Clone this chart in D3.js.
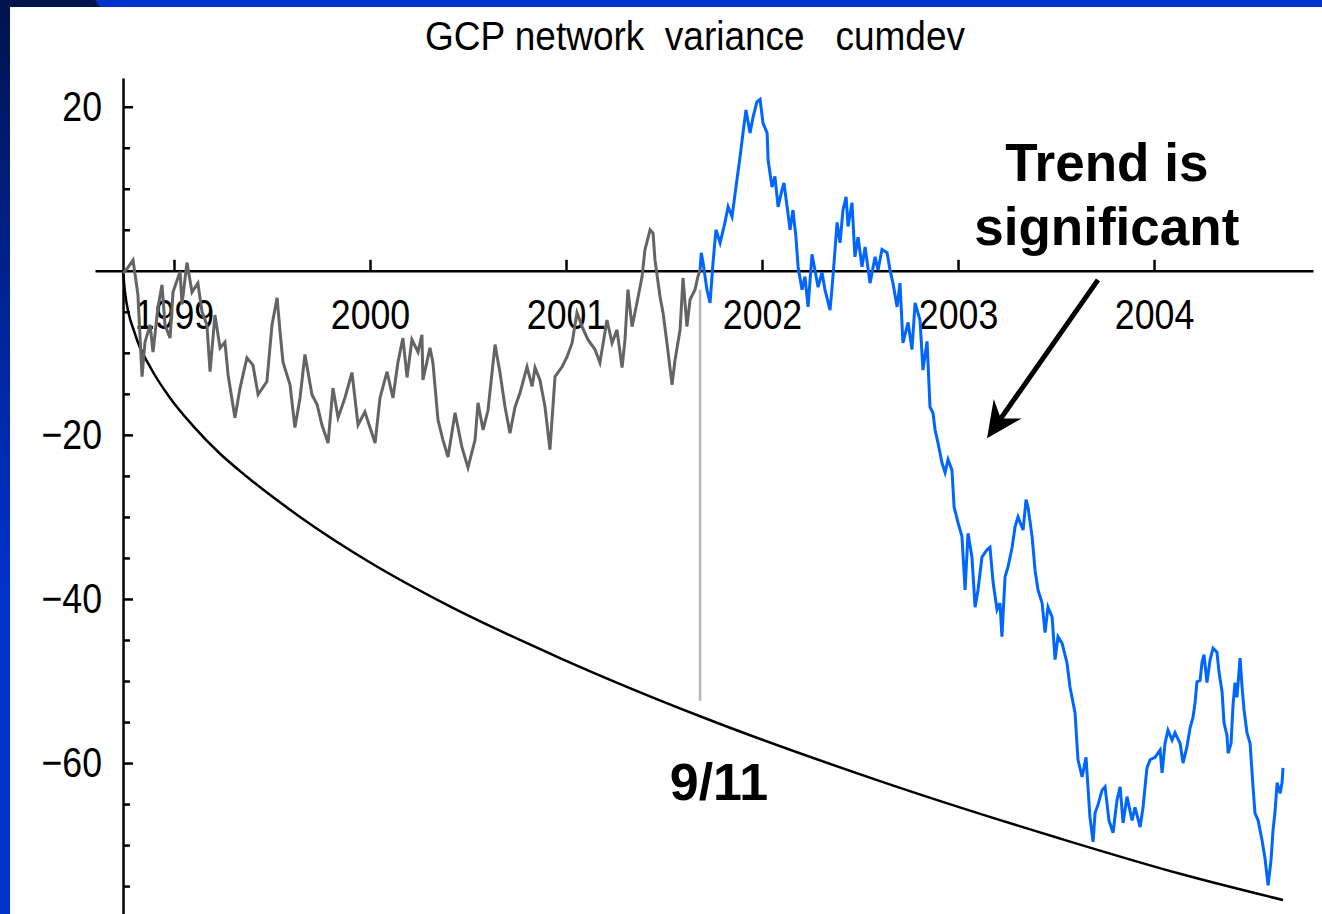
<!DOCTYPE html>
<html>
<head>
<meta charset="utf-8">
<script src="https://cdn.jsdelivr.net/npm/d3@7"></script>
<style>
  html, body { margin: 0; padding: 0; background: #fff; overflow: hidden; }
  svg { display: block; }
  text { font-family: "Liberation Sans", Arial, sans-serif; }
</style>
</head>
<body>
<div id="chart"></div>
<script>
// cumulative deviation before 9/11 (grey) -- decimal year / value
const grayYears = [1998.740, 1998.765, 1998.791, 1998.816, 1998.837, 1998.852, 1998.878, 1998.893, 1998.918, 1998.939,
  1998.954, 1998.980, 1998.995, 1999.031, 1999.041, 1999.066, 1999.092, 1999.122, 1999.143, 1999.168,
  1999.184, 1999.209, 1999.235, 1999.260, 1999.276, 1999.311, 1999.337, 1999.372, 1999.403, 1999.429,
  1999.474, 1999.500, 1999.526, 1999.541, 1999.556, 1999.592, 1999.617, 1999.643, 1999.668, 1999.704,
  1999.730, 1999.755, 1999.786, 1999.811, 1999.837, 1999.872, 1999.908, 1999.939, 1999.974, 2000.000,
  2000.026, 2000.051, 2000.087, 2000.117, 2000.143, 2000.168, 2000.189, 2000.214, 2000.245, 2000.265,
  2000.270, 2000.306, 2000.321, 2000.347, 2000.372, 2000.398, 2000.434, 2000.469, 2000.500, 2000.536,
  2000.551, 2000.577, 2000.602, 2000.638, 2000.663, 2000.689, 2000.714, 2000.740, 2000.765, 2000.801,
  2000.827, 2000.842, 2000.867, 2000.893, 2000.918, 2000.944, 2000.980, 2001.005, 2001.031, 2001.056,
  2001.082, 2001.112, 2001.148, 2001.173, 2001.209, 2001.235, 2001.260, 2001.286, 2001.301, 2001.316,
  2001.337, 2001.362, 2001.388, 2001.403, 2001.429, 2001.444, 2001.454, 2001.480, 2001.495, 2001.515,
  2001.541, 2001.556, 2001.582, 2001.597, 2001.617, 2001.633, 2001.658, 2001.673, 2001.684];
const grayValues = [-0.3, 0.4, 1.3, -2.9, -12.9, -8.7, -6.6, -9.9, -4.5, -1.7,
  -6.6, -8.2, -2.6, -0.1, -4.1, 1.0, -2.6, -1.5, -5.0, -6.6,
  -12.3, -5.4, -9.4, -8.7, -12.7, -17.9, -14.3, -10.6, -11.5, -15.1,
  -13.5, -6.6, -3.3, -7.4, -11.1, -13.9, -19.1, -15.5, -10.2, -15.1,
  -16.3, -18.8, -21.0, -14.3, -17.9, -15.5, -12.4, -18.8, -17.2, -19.1,
  -21.0, -15.5, -12.3, -15.5, -11.1, -8.2, -13.0, -8.4, -9.9, -7.8,
  -13.3, -9.4, -11.2, -18.2, -20.6, -22.7, -17.3, -21.5, -24.0, -20.6,
  -16.1, -19.4, -17.0, -9.0, -12.4, -16.6, -19.8, -16.6, -14.9, -11.7,
  -14.1, -11.8, -13.3, -16.6, -21.8, -12.9, -11.7, -10.5, -8.8, -5.1,
  -6.8, -8.4, -9.6, -11.2, -6.0, -8.8, -7.2, -11.8, -8.4, -2.3,
  -6.8, -3.9, -0.7, 2.6, 5.0, 4.6, 1.3, -3.2, -5.1, -8.8,
  -13.9, -10.9, -7.2, -0.9, -6.8, -3.5, -2.3, -0.7, 0.1];

// cumulative deviation from 9/11 on (blue)
const blueYears = [2001.684, 2001.690, 2001.699, 2001.719, 2001.735, 2001.750, 2001.765, 2001.786, 2001.811, 2001.827,
  2001.847, 2001.872, 2001.888, 2001.903, 2001.918, 2001.939, 2001.954, 2001.974, 2001.990, 2002.005,
  2002.026, 2002.031, 2002.051, 2002.066, 2002.082, 2002.102, 2002.112, 2002.128, 2002.143, 2002.158,
  2002.173, 2002.184, 2002.204, 2002.219, 2002.235, 2002.255, 2002.270, 2002.286, 2002.306, 2002.321,
  2002.347, 2002.362, 2002.383, 2002.398, 2002.413, 2002.429, 2002.439, 2002.459, 2002.474, 2002.490,
  2002.510, 2002.526, 2002.551, 2002.577, 2002.592, 2002.612, 2002.638, 2002.653, 2002.668, 2002.689,
  2002.704, 2002.719, 2002.745, 2002.765, 2002.781, 2002.806, 2002.821, 2002.842, 2002.857, 2002.872,
  2002.883, 2002.898, 2002.918, 2002.934, 2002.949, 2002.969, 2002.980, 2003.000, 2003.020, 2003.036,
  2003.051, 2003.071, 2003.087, 2003.102, 2003.122, 2003.148, 2003.163, 2003.179, 2003.199, 2003.214,
  2003.224, 2003.240, 2003.255, 2003.276, 2003.291, 2003.306, 2003.332, 2003.347, 2003.357, 2003.378,
  2003.393, 2003.408, 2003.429, 2003.444, 2003.459, 2003.480, 2003.495, 2003.510, 2003.531, 2003.556,
  2003.571, 2003.597, 2003.612, 2003.633, 2003.653, 2003.673, 2003.689, 2003.699, 2003.714, 2003.735,
  2003.750, 2003.770, 2003.791, 2003.811, 2003.827, 2003.842, 2003.862, 2003.888, 2003.903, 2003.929,
  2003.944, 2003.954, 2003.964, 2003.980, 2004.005, 2004.031, 2004.041, 2004.056, 2004.071, 2004.092,
  2004.107, 2004.133, 2004.148, 2004.168, 2004.184, 2004.199, 2004.209, 2004.219, 2004.235, 2004.245,
  2004.255, 2004.270, 2004.286, 2004.301, 2004.321, 2004.332, 2004.347, 2004.357, 2004.372, 2004.378,
  2004.393, 2004.403, 2004.413, 2004.423, 2004.439, 2004.449, 2004.459, 2004.474, 2004.490, 2004.505,
  2004.515, 2004.531, 2004.551, 2004.566, 2004.582, 2004.597, 2004.607, 2004.617, 2004.628, 2004.643,
  2004.653, 2004.658];
const blueValues = [0.1, 2.2, 1.0, -2.3, -3.9, 1.0, 5.0, 3.4, 5.9, 7.8,
  6.6, 11.1, 13.9, 16.8, 19.6, 16.8, 18.7, 20.6, 20.9, 18.0,
  16.8, 13.5, 10.2, 11.5, 7.8, 9.9, 10.7, 7.8, 5.0, 7.4,
  4.1, 0.5, -2.3, -0.7, -4.4, 2.0, 0.1, -2.0, -0.2, -2.3,
  -4.8, -0.7, 5.9, 3.4, 7.4, 9.0, 5.4, 8.3, 1.7, 4.1,
  0.5, 2.9, -1.5, 1.7, 0.1, 2.6, 2.2, 0.1, -1.5, -4.4,
  -1.5, -8.8, -6.3, -9.6, -3.9, -6.0, -12.1, -8.6, -16.6, -17.3,
  -19.4, -21.0, -23.4, -24.6, -23.0, -24.3, -28.8, -30.7, -32.4, -38.9,
  -32.0, -34.9, -41.0, -38.9, -34.9, -34.0, -33.7, -38.0, -41.3, -40.5,
  -44.6, -37.3, -36.1, -33.7, -31.2, -30.0, -31.6, -27.9, -28.8, -32.4,
  -36.5, -38.9, -40.5, -44.1, -41.0, -42.2, -47.4, -44.6, -45.4, -47.8,
  -50.7, -53.9, -59.6, -61.7, -59.3, -66.6, -69.6, -66.1, -65.1, -63.3,
  -62.9, -67.0, -68.5, -64.5, -62.9, -67.3, -64.1, -67.0, -65.4, -67.8,
  -65.4, -62.9, -60.6, -59.6, -59.3, -58.4, -61.2, -57.6, -56.0, -57.2,
  -56.3, -57.6, -60.0, -58.0, -55.7, -54.4, -52.7, -50.1, -49.9, -47.7,
  -46.8, -50.2, -47.4, -46.0, -46.5, -49.0, -51.3, -55.1, -56.6, -58.8,
  -57.6, -52.9, -50.2, -52.0, -47.2, -50.7, -53.5, -56.3, -57.6, -62.9,
  -66.1, -67.0, -69.4, -71.6, -74.9, -71.8, -68.2, -66.0, -62.4, -63.7,
  -62.4, -60.6];

// significance envelope (black curve)
const envelopeYears = [1998.740, 1998.750, 1998.801, 1998.878, 1998.980, 1999.097, 1999.235, 1999.372, 1999.643,
  1999.990, 2000.383, 2000.969, 2001.684, 2002.602, 2003.520, 2004.133, 2004.658];
const envelopeValues = [0, -2.6, -7.7, -11.7, -15.5, -18.9, -22.3, -25.1, -30.0,
  -35.4, -40.6, -47.2, -54.3, -62.2, -69.2, -73.5, -76.7];

const yearTicks = [1999, 2000, 2001, 2002, 2003, 2004];
const yLabelTicks = [-60, -40, -20, 20];
const yMinorTicks = [-75, -70, -65, -55, -50, -45, -35, -30, -25, -15, -10, -5, 5, 10, 15];

const sept11 = 2001.684;
const sept11Span = [-2.3, -52.4];

const width = 1322;
const height = 914;
const labelSquash = 0.85;

let svg = d3.select("#chart").append("svg")
  .attr("width", width)
  .attr("height", height);

// slide frame
let defs = svg.append("defs");
let grad = defs.append("linearGradient").attr("id", "sideGrad")
  .attr("x1", 0).attr("y1", 0).attr("x2", 0).attr("y2", 1);
grad.append("stop").attr("offset", "0%").attr("stop-color", "#00134d");
grad.append("stop").attr("offset", "35%").attr("stop-color", "#002599");
grad.append("stop").attr("offset", "65%").attr("stop-color", "#0033cc");
grad.append("stop").attr("offset", "100%").attr("stop-color", "#0033cc");

svg.append("rect").attr("width", width).attr("height", height).attr("fill", "#fff");
svg.append("rect").attr("x", 0).attr("y", 0).attr("width", width).attr("height", 7).attr("fill", "#0033cc");
svg.append("path").attr("d", "M0,0 L95,0 L100,7 L0,7 Z").attr("fill", "#00134d");
svg.append("rect").attr("x", 0).attr("y", 0).attr("width", 10).attr("height", height).attr("fill", "url(#sideGrad)");

// scales
let xScale = d3.scaleLinear().domain([1998.597, 2004.811]).range([95, 1313]);
let yScale = d3.scaleLinear().domain([-78.4, 23.5]).range([914, 78]);

// title
svg.append("text")
  .attr("x", 425)
  .attr("y", 50)
  .attr("font-size", 40)
  .attr("textLength", 540)
  .attr("lengthAdjust", "spacingAndGlyphs")
  .style("white-space", "pre")
  .text("GCP network  variance   cumdev");

// x axis along zero
let xAxis = d3.axisBottom(xScale)
  .tickValues(yearTicks)
  .tickSizeInner(-11)
  .tickSizeOuter(0)
  .tickPadding(28)
  .tickFormat(d3.format("d"));
let gx = svg.append("g")
  .attr("transform", `translate(0,${yScale(0)})`)
  .call(xAxis);
gx.select(".domain").attr("stroke-width", 2.5);
gx.selectAll(".tick line").attr("stroke-width", 2.5);
gx.selectAll(".tick text")
  .attr("font-size", 42)
  .attr("font-family", "Liberation Sans, Arial, sans-serif")
  .attr("transform", `scale(${labelSquash},1)`);

// y axis
let yAxisX = xScale(1998.740);
let yAxis = d3.axisLeft(yScale)
  .tickValues(yLabelTicks)
  .tickSizeInner(-10)
  .tickSizeOuter(0)
  .tickPadding(21)
  .tickFormat(d3.format("d"));
let gy = svg.append("g")
  .attr("transform", `translate(${yAxisX},0)`)
  .call(yAxis);
gy.select(".domain").attr("stroke-width", 2.5);
gy.selectAll(".tick line").attr("stroke-width", 2.5);
gy.selectAll(".tick text")
  .attr("font-size", 42)
  .attr("font-family", "Liberation Sans, Arial, sans-serif")
  .attr("x", -21 / labelSquash)
  .attr("transform", `scale(${labelSquash},1)`);

let gyMinor = svg.append("g")
  .attr("transform", `translate(${yAxisX},0)`)
  .call(d3.axisRight(yScale).tickValues(yMinorTicks).tickSize(7).tickFormat(""));
gyMinor.select(".domain").remove();
gyMinor.selectAll(".tick line").attr("stroke-width", 2.5);

// 9/11 marker line
svg.append("line")
  .attr("x1", xScale(sept11)).attr("x2", xScale(sept11))
  .attr("y1", yScale(sept11Span[0])).attr("y2", yScale(sept11Span[1]))
  .attr("stroke", "#b3b8b3")
  .attr("stroke-width", 2.5);

// envelope
let envelope = envelopeYears.map((t, i) => [t, envelopeValues[i]]);
svg.append("path")
  .datum(envelope)
  .attr("fill", "none")
  .attr("stroke", "#000")
  .attr("stroke-width", 2.5)
  .attr("d", d3.line().x((d) => xScale(d[0])).y((d) => yScale(d[1])).curve(d3.curveMonotoneX));

let line = d3.line().x((d) => xScale(d[0])).y((d) => yScale(d[1]));

svg.append("path")
  .datum(grayYears.map((t, i) => [t, grayValues[i]]))
  .attr("fill", "none")
  .attr("stroke", "#646464")
  .attr("stroke-width", 3)
  .attr("d", line);

svg.append("path")
  .datum(blueYears.map((t, i) => [t, blueValues[i]]))
  .attr("fill", "none")
  .attr("stroke", "#0066ff")
  .attr("stroke-width", 3)
  .attr("d", line);

// annotations
svg.append("text")
  .attr("x", xScale(2003.759))
  .attr("y", yScale(10.9))
  .attr("text-anchor", "middle")
  .attr("font-size", 53)
  .attr("font-weight", "bold")
  .text("Trend is");
svg.append("text")
  .attr("x", xScale(2003.759))
  .attr("y", yScale(3.2))
  .attr("text-anchor", "middle")
  .attr("font-size", 53)
  .attr("font-weight", "bold")
  .text("significant");
svg.append("text")
  .attr("x", xScale(2001.780))
  .attr("y", yScale(-64.5))
  .attr("text-anchor", "middle")
  .attr("font-size", 52)
  .attr("font-weight", "bold")
  .text("9/11");

// arrow
let tail = [xScale(2003.714), yScale(-1.1)];
let tip = [xScale(2003.148), yScale(-20.4)];
let dx = tip[0] - tail[0], dy = tip[1] - tail[1];
let len = Math.hypot(dx, dy);
let ux = dx / len, uy = dy / len;
let nx = -uy, ny = ux;
let headLen = 36, headW = 17, notch = 24;
svg.append("line")
  .attr("x1", tail[0]).attr("y1", tail[1])
  .attr("x2", tip[0] - ux * notch).attr("y2", tip[1] - uy * notch)
  .attr("stroke", "#000")
  .attr("stroke-width", 5);
let head = [
  tip,
  [tip[0] - ux * headLen + nx * headW, tip[1] - uy * headLen + ny * headW],
  [tip[0] - ux * notch, tip[1] - uy * notch],
  [tip[0] - ux * headLen - nx * headW, tip[1] - uy * headLen - ny * headW]
];
svg.append("path")
  .attr("d", "M" + head.map((p) => p.join(",")).join("L") + "Z")
  .attr("fill", "#000");
</script>
</body>
</html>
